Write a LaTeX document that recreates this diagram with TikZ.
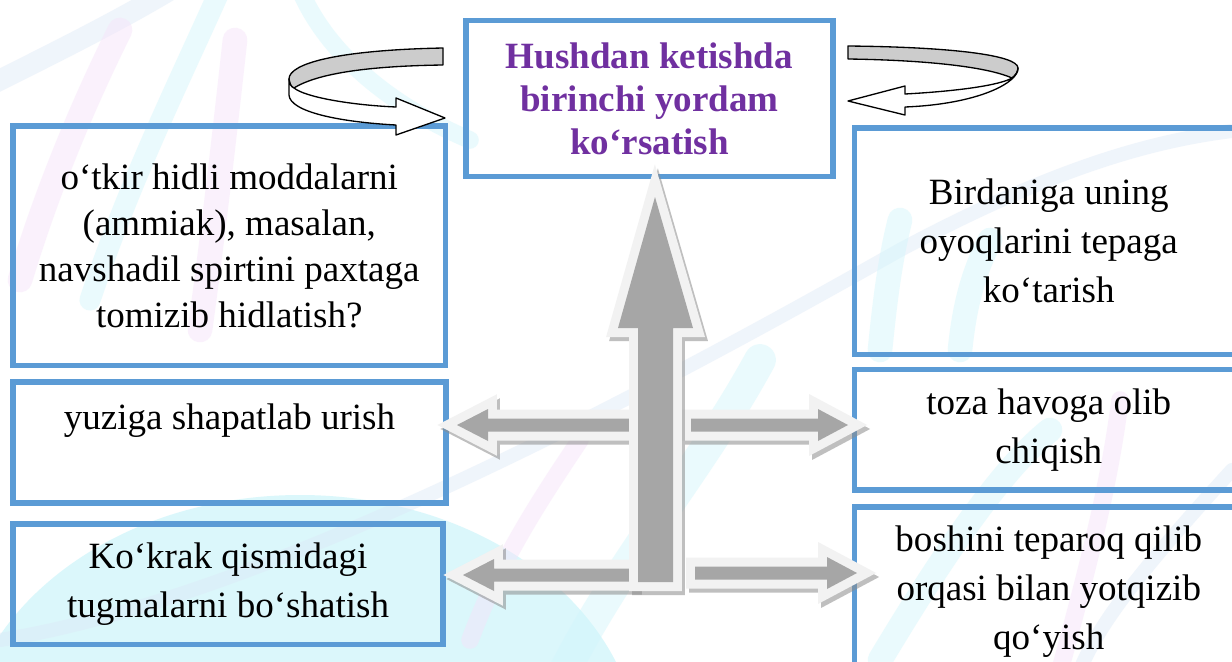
\documentclass[tikz,border=0pt]{standalone}
\usepackage{fontspec}
\setmainfont{Liberation Serif}
\definecolor{boxblue}{HTML}{5B9BD5}
\definecolor{titlepurple}{HTML}{7030A0}
\definecolor{arrgray}{HTML}{A6A6A6}
\definecolor{arrrim}{HTML}{F2F2F2}
\definecolor{arrshade}{HTML}{8C8C8C}
\definecolor{ribbon}{HTML}{CCCCCC}
\definecolor{bgcyan}{HTML}{D2F6FB}
\definecolor{bgpink}{HTML}{F6E2F9}
\definecolor{bgblue}{HTML}{DDE9F7}

% a flat block arrow with a light rim and a soft drop shadow
\newcommand\rimmedarrow[1]{%
  \draw[arrshade, opacity=.55, line width=10.2pt, line join=miter, shift={(3,4)}] #1;
  \draw[arrrim, line width=10.2pt, line join=miter] #1;
  \fill[arrgray] #1;
}

\tikzset{
  box/.style={draw=boxblue, line width=3pt, rectangle, inner sep=0pt,
    align=center, font=\fontsize{21}{27.8}\selectfont},
  txt/.style={align=center, inner sep=0pt, font=\fontsize{21}{27.8}\selectfont},
  ribbonline/.style={draw=black, line width=0.75pt, line join=round},
  bgline/.style={line cap=round, opacity=.45},
}

\begin{document}
\begin{tikzpicture}[x=0.567pt, y=-0.567pt]
\useasboundingbox (0,0) rectangle (1232,661);
\clip (0,0) rectangle (1232,661);
\fill[white] (0,0) rectangle (1232,661);

% faint decorative backdrop
\fill[bgcyan, opacity=.8] (300,760) ellipse [x radius=340, y radius=265];
\draw[bgline, bgblue, line width=12pt] (-10,85) .. controls (60,50) and (120,20) .. (170,-10);
\draw[bgline, bgcyan, line width=12pt] (90,300) .. controls (130,180) and (180,80) .. (220,-10);
\draw[bgline, bgpink, line width=14pt] (20,280) .. controls (50,180) and (90,90) .. (120,30);
\draw[bgline, bgpink, line width=14pt] (200,330) .. controls (215,220) and (225,130) .. (235,40);
\draw[bgline, bgcyan, line width=10pt] (300,-10) .. controls (330,60) and (400,110) .. (470,140);
\draw[bgline, bgblue, line width=8pt] (0,640) .. controls (250,600) and (600,420) .. (900,250) .. controls (1050,170) and (1150,140) .. (1240,130);
\draw[bgline, bgcyan, line width=18pt] (560,680) .. controls (620,560) and (700,470) .. (760,360);
\draw[bgline, bgpink, line width=10pt] (470,640) .. controls (500,560) and (540,500) .. (580,440);
\draw[bgline, bgcyan, line width=14pt] (880,660) .. controls (940,560) and (1000,470) .. (1050,430);
\draw[bgline, bgpink, line width=10pt] (1060,670) .. controls (1090,560) and (1110,480) .. (1120,400);
\draw[bgline, bgblue, line width=8pt] (1232,470) .. controls (1150,560) and (1100,620) .. (1080,670);
\draw[bgline, bgcyan, line width=14pt] (880,350) .. controls (885,300) and (890,260) .. (900,220);
\draw[bgline, bgcyan, line width=14pt] (960,350) .. controls (965,300) and (975,270) .. (990,240);

% boxes and their texts
\node[box, minimum width=367*0.567pt, minimum height=155.5*0.567pt,
      font=\fontsize{21}{24.4}\selectfont\bfseries, text=titlepurple]
  (title) at (649.5,98.5) {Hushdan ketishda\\birinchi yordam\\ko‘rsatish};

\node[box, minimum width=432.5*0.567pt, minimum height=239.5*0.567pt,
      font=\fontsize{21}{26}\selectfont]
  (L1) at (229.25,245.75) {o‘tkir hidli moddalarni\\(ammiak), masalan,\\navshadil spirtini paxtaga\\tomizib hidlatish?};

\node[box, minimum width=433*0.567pt, minimum height=121*0.567pt]
  (L2) at (229.5,442.5) {};
\node[txt] (L2t) at (229.5,421) {yuziga shapatlab urish};

\node[box, minimum width=430*0.567pt, minimum height=120.5*0.567pt]
  (L3) at (228,584.25) {Ko‘krak qismidagi\\tugmalarni bo‘shatish};

\node[box, minimum width=388.5*0.567pt, minimum height=226.5*0.567pt]
  (R1) at (1048.75,241.25) {Birdaniga uning\\oyoqlarini tepaga\\ko‘tarish};

\node[box, minimum width=388.5*0.567pt, minimum height=120.5*0.567pt]
  (R2) at (1048.75,429.75) {toza havoga olib\\chiqish};

\node[box, minimum width=388.5*0.567pt, minimum height=170*0.567pt]
  (R3) at (1048.75,592) {boshini teparoq qilib\\orqasi bilan yotqizib\\qo‘yish};

% curved ribbon arrow on the left
\coordinate (cl) at (445,118);
\filldraw[ribbonline, fill=ribbon]
  (443,48) .. controls (340,50) and (289,63) .. (289,79)
  .. controls (290,84) and (291,87) .. (294,88)
  .. controls (318,73) and (370,66) .. (443,65) -- cycle;
\filldraw[ribbonline, fill=white]
  (289,79) -- (289,95) .. controls (290,112) and (340,122) .. (396,125)
  -- (396,135) -- (cl) -- (396,98) -- (396,107)
  .. controls (350,105) and (305,97) .. (294,88)
  .. controls (291,87) and (289,83) .. (289,79) -- cycle;

% curved ribbon arrow on the right
\coordinate (cr) at (848,101);
\filldraw[ribbonline, fill=ribbon]
  (848,46) .. controls (950,47) and (1018,55) .. (1018,68)
  .. controls (1018,72) and (1015,76) .. (1012,78)
  .. controls (985,66) and (920,60) .. (848,59) -- cycle;
\filldraw[ribbonline, fill=white]
  (1018,68) .. controls (1019,82) and (980,104) .. (905,107)
  -- (905,115) -- (cr) -- (905,86) -- (905,94)
  .. controls (960,91) and (1000,85) .. (1012,78)
  .. controls (1015,76) and (1018,72) .. (1018,68) -- cycle;

% side block arrows
\rimmedarrow{(457,425) -- (488,409) -- (488,418.5) -- (630,418.5) -- (630,431.5) -- (488,431.5) -- (488,441) -- cycle}
\rimmedarrow{(848,425) -- (818,409) -- (818,418.5) -- (691,418.5) -- (691,431.5) -- (818,431.5) -- (818,441) -- cycle}
\rimmedarrow{(463,575) -- (494,559) -- (494,568.5) -- (630,568.5) -- (630,581.5) -- (494,581.5) -- (494,591) -- cycle}
\rimmedarrow{(857,573) -- (827,557) -- (827,566.5) -- (695,566.5) -- (695,579.5) -- (827,579.5) -- (827,589) -- cycle}

% central upward block arrow
\rimmedarrow{(655,197) -- (693,328) -- (673,328) -- (673,582) -- (638,582) -- (638,328) -- (618,328) -- cycle}
\end{tikzpicture}
\end{document}
